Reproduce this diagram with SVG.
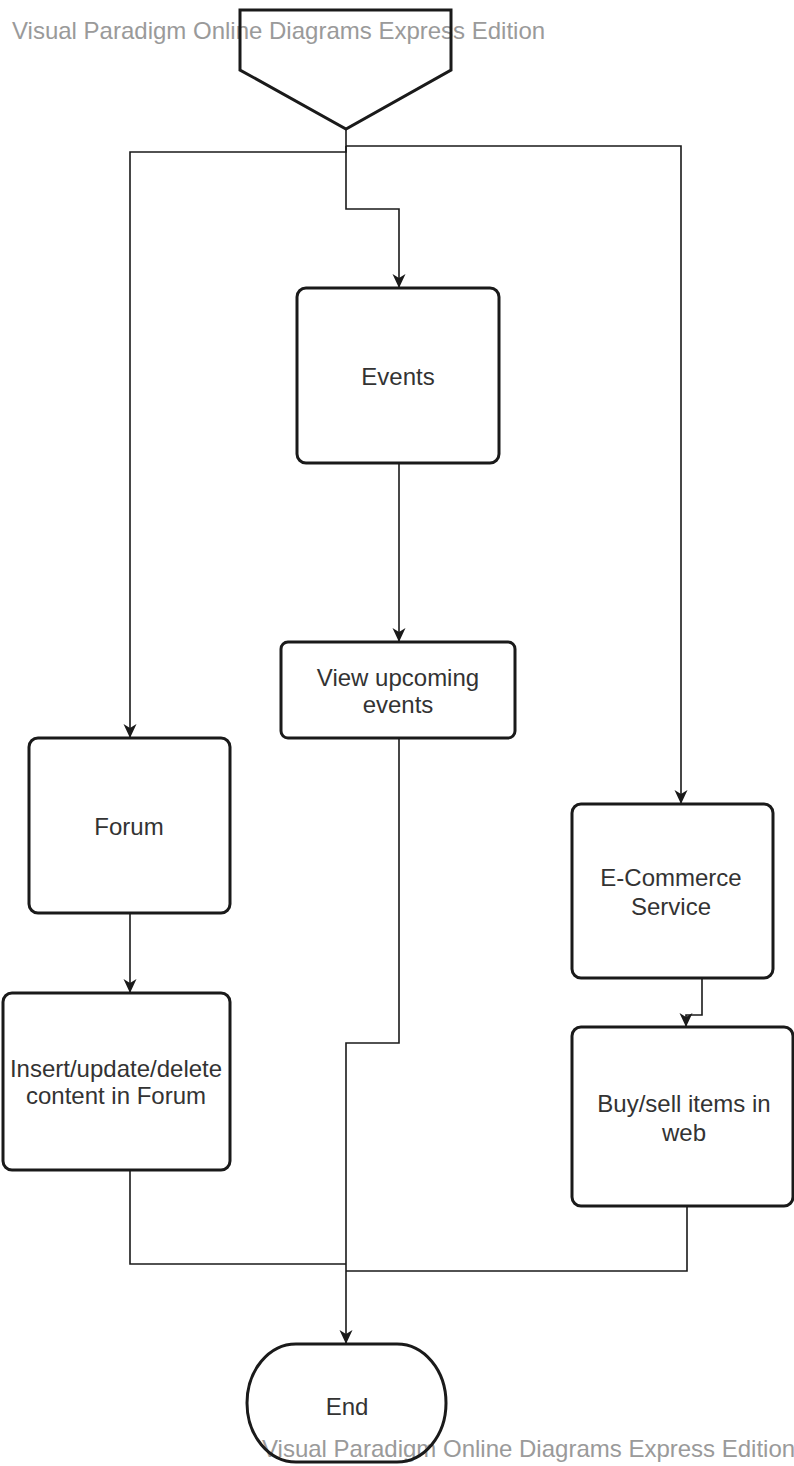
<svg xmlns="http://www.w3.org/2000/svg" width="794" height="1466" viewBox="0 0 794 1466">
  <defs>
    <style>
      .box { fill: #ffffff; stroke: #1a1a1a; stroke-width: 3; }
      .open { fill: none; stroke: #1a1a1a; stroke-width: 3; }
      .lbl { font-family: "Liberation Sans", Arial, sans-serif; font-size: 24px; fill: #333333; text-anchor: middle; }
      .wm { font-family: "Liberation Sans", Arial, sans-serif; font-size: 24px; fill: #9a9a9a; }
      .edge { fill: none; stroke: #1a1a1a; stroke-width: 1.6; }
    </style>
    <marker id="arrow" viewBox="0 0 14 14" refX="13" refY="7" markerWidth="14" markerHeight="14" markerUnits="userSpaceOnUse" orient="auto">
      <path d="M0,0.5 L14,7 L0,13.5 L4,7 z" fill="#1a1a1a"/>
    </marker>
  </defs>

  <rect width="794" height="1466" fill="#ffffff"/>

  <!-- watermark texts, drawn under the outlines -->
  <text class="wm" x="12" y="39">Visual Paradigm Online Diagrams Express Edition</text>
  <text class="wm" x="262" y="1457">Visual Paradigm Online Diagrams Express Edition</text>

  <!-- start: off-page connector -->
  <g id="start">
    <polygon class="open" points="240,10 451,10 451,70 346,129 240,70"/>
  </g>

  <g id="events">
    <rect class="box" x="297" y="288" width="202" height="175" rx="9"/>
    <text class="lbl" x="398" y="385">Events</text>
  </g>

  <g id="view-events">
    <rect class="box" x="281" y="642" width="234" height="96" rx="7"/>
    <text class="lbl" x="398" y="686">View upcoming</text>
    <text class="lbl" x="398" y="713">events</text>
  </g>

  <g id="forum">
    <rect class="box" x="29" y="738" width="201" height="175" rx="9"/>
    <text class="lbl" x="129" y="835">Forum</text>
  </g>

  <g id="forum-edit">
    <rect class="box" x="3" y="993" width="227" height="177" rx="9"/>
    <text class="lbl" x="116" y="1077">Insert/update/delete</text>
    <text class="lbl" x="116" y="1104">content in Forum</text>
  </g>

  <g id="ecommerce">
    <rect class="box" x="572" y="804" width="201" height="174" rx="9"/>
    <text class="lbl" x="671" y="886">E-Commerce</text>
    <text class="lbl" x="671" y="915">Service</text>
  </g>

  <g id="buy-sell">
    <rect class="box" x="572" y="1027" width="221" height="179" rx="9"/>
    <text class="lbl" x="684" y="1112">Buy/sell items in</text>
    <text class="lbl" x="684" y="1141">web</text>
  </g>

  <g id="end">
    <path class="open" d="M296,1344 H397 A49,59 0 0 1 397,1462 H296 A49,59 0 0 1 296,1344 Z"/>
    <text class="lbl" x="347" y="1415">End</text>
  </g>

  <g id="connectors">
    <path class="edge" d="M346,129 V152 H130 V737" marker-end="url(#arrow)"/>
    <path class="edge" d="M346,146 H681 V803" marker-end="url(#arrow)"/>
    <path class="edge" d="M346,146 V209 H399 V287" marker-end="url(#arrow)"/>
    <path class="edge" d="M399,463 V641" marker-end="url(#arrow)"/>
    <path class="edge" d="M399,738 V1043 H346 V1343" marker-end="url(#arrow)"/>
    <path class="edge" d="M130,913 V992" marker-end="url(#arrow)"/>
    <path class="edge" d="M702,978 V1015 H686 V1026" marker-end="url(#arrow)"/>
    <path class="edge" d="M130,1170 V1264 H346"/>
    <path class="edge" d="M687,1206 V1271 H346"/>
  </g>
</svg>
